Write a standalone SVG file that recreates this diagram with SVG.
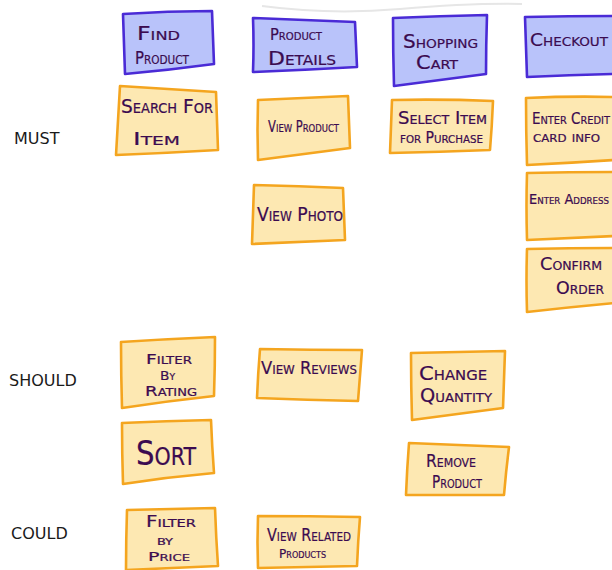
<svg xmlns="http://www.w3.org/2000/svg" width="612" height="570" viewBox="0 0 612 570">
<style>
.epic{fill:#b9c3fa;stroke:#4a2bd6;stroke-width:2.6;stroke-linejoin:round}
.story{fill:#fde8b2;stroke:#f4a51f;stroke-width:2.6;stroke-linejoin:round}
.t{font-family:"DejaVu Sans Condensed","DejaVu Sans",sans-serif;font-variant:small-caps;fill:#3b0b50;stroke:#3b0b50;stroke-width:0.2}
.lbl{font-family:"DejaVu Sans",sans-serif;font-size:16px;fill:#1a1a1a}
</style>
<rect width="612" height="570" fill="#fff"/>
<path d="M262,6 Q330,15 400,9 T522,4" fill="none" stroke="#e6e6e6" stroke-width="2"/>

<text class="lbl" x="14" y="144">MUST</text>
<text class="lbl" x="9" y="386">SHOULD</text>
<text class="lbl" x="11" y="539">COULD</text>

<g id="find-product">
<path class="epic" d="M123,14 Q168,11 212,11 Q213,38 214,64 Q170,70 125,74 Q124,44 123,14 Z"/>
<text class="t" font-size="19" x="137" y="40" textLength="43" lengthAdjust="spacingAndGlyphs">Find</text>
<text class="t" font-size="17" x="135" y="64" textLength="54" lengthAdjust="spacingAndGlyphs">Product</text>
</g>
<g id="product-details">
<path class="epic" d="M253,18 Q304,20 355,22 Q356,45 357,67 Q305,70 253,72 Q254,45 253,18 Z"/>
<text class="t" font-size="16" x="270" y="40" textLength="52" lengthAdjust="spacingAndGlyphs">Product</text>
<text class="t" font-size="20" x="268" y="65" textLength="68" lengthAdjust="spacingAndGlyphs">Details</text>
</g>
<g id="shopping-cart">
<path class="epic" d="M393,18 Q440,16 487,15 Q486,45 486,74 Q440,80 394,86 Q393,52 393,18 Z"/>
<text class="t" font-size="19" x="403" y="48" textLength="75" lengthAdjust="spacingAndGlyphs">Shopping</text>
<text class="t" font-size="19" x="416" y="69" textLength="42" lengthAdjust="spacingAndGlyphs">Cart</text>
</g>
<g id="checkout">
<path class="epic" d="M525,17 Q570,16 614,16 L614,74 Q570,75 527,77 Q526,47 525,17 Z"/>
<text class="t" font-size="18" x="530" y="46" textLength="78" lengthAdjust="spacingAndGlyphs">Checkout</text>
</g>

<g id="search-for-item">
<path class="story" d="M120,86 Q168,89 216,92 Q217,121 218,150 Q167,153 116,155 Q118,120 120,86 Z"/>
<text class="t" font-size="20" x="121" y="113" textLength="92" lengthAdjust="spacingAndGlyphs">Search For</text>
<text class="t" font-size="18" x="133" y="145" textLength="47" lengthAdjust="spacingAndGlyphs">Item</text>
</g>
<g id="view-product">
<path class="story" d="M258,100 Q303,98 348,96 Q349,122 350,148 Q304,154 258,160 Q257,130 258,100 Z"/>
<text class="t" font-size="15" x="268" y="132" textLength="71" lengthAdjust="spacingAndGlyphs">View Product</text>
</g>
<g id="select-item">
<path class="story" d="M392,100 Q443,99 493,101 Q492,126 490,150 Q440,152 390,153 Q391,127 392,100 Z"/>
<text class="t" font-size="17" x="398" y="124" textLength="89" lengthAdjust="spacingAndGlyphs">Select Item</text>
<text class="t" font-size="15" x="400" y="143" textLength="83" lengthAdjust="spacingAndGlyphs">for Purchase</text>
</g>
<g id="enter-credit-card">
<path class="story" d="M526,98 Q570,96 614,97 L614,160 Q570,163 527,165 Q526,131 526,98 Z"/>
<text class="t" font-size="15" x="532" y="124" textLength="78" lengthAdjust="spacingAndGlyphs">Enter Credit</text>
<text class="t" font-size="14" x="533" y="142" textLength="67" lengthAdjust="spacingAndGlyphs">card info</text>
</g>

<g id="view-photo">
<path class="story" d="M254,185 Q299,186 343,188 Q344,214 345,240 Q298,242 252,244 Q253,214 254,185 Z"/>
<text class="t" font-size="20" x="257" y="221" textLength="86" lengthAdjust="spacingAndGlyphs">View Photo</text>
</g>
<g id="enter-address">
<path class="story" d="M527,173 Q570,172 614,172 L614,236 Q570,238 527,240 Q526,206 527,173 Z"/>
<text class="t" font-size="13.5" x="529" y="204" textLength="80" lengthAdjust="spacingAndGlyphs">Enter Address</text>
</g>
<g id="confirm-order">
<path class="story" d="M527,249 Q570,248 614,248 L614,303 Q570,307 527,312 Q526,280 527,249 Z"/>
<text class="t" font-size="17" x="540" y="270" textLength="62" lengthAdjust="spacingAndGlyphs">Confirm</text>
<text class="t" font-size="17" x="556" y="294" textLength="48" lengthAdjust="spacingAndGlyphs">Order</text>
</g>

<g id="filter-by-rating">
<path class="story" d="M121,342 Q168,339 215,337 Q215,366 214,396 Q168,401 122,408 Q121,375 121,342 Z"/>
<text class="t" font-size="14" x="146" y="364" textLength="46" lengthAdjust="spacingAndGlyphs">Filter</text>
<text class="t" font-size="12" x="160" y="380" textLength="15" lengthAdjust="spacingAndGlyphs">By</text>
<text class="t" font-size="14" x="145" y="396" textLength="52" lengthAdjust="spacingAndGlyphs">Rating</text>
</g>
<g id="view-reviews">
<path class="story" d="M260,349 Q311,350 362,350 Q360,375 358,401 Q307,400 257,398 Q258,373 260,349 Z"/>
<text class="t" font-size="18" x="261" y="374" textLength="96" lengthAdjust="spacingAndGlyphs">View Reviews</text>
</g>
<g id="change-quantity">
<path class="story" d="M411,353 Q458,352 505,351 Q504,379 503,408 Q457,414 412,420 Q411,386 411,353 Z"/>
<text class="t" font-size="20" x="419" y="380" textLength="68" lengthAdjust="spacingAndGlyphs">Change</text>
<text class="t" font-size="19" x="420" y="402" textLength="72" lengthAdjust="spacingAndGlyphs">Quantity</text>
</g>

<g id="sort">
<path class="story" d="M122,423 Q166,421 211,420 Q212,446 214,473 Q168,477 123,484 Q122,453 122,423 Z"/>
<text class="t" font-size="34" x="136" y="465" textLength="60" lengthAdjust="spacingAndGlyphs">Sort</text>
</g>
<g id="remove-product">
<path class="story" d="M409,443 Q459,445 509,447 Q506,471 504,495 Q455,495 406,495 Q407,469 409,443 Z"/>
<text class="t" font-size="17" x="426" y="467" textLength="50" lengthAdjust="spacingAndGlyphs">Remove</text>
<text class="t" font-size="18" x="432" y="488" textLength="50" lengthAdjust="spacingAndGlyphs">Product</text>
</g>

<g id="filter-by-price">
<path class="story" d="M127,510 Q171,509 215,508 Q216,537 218,566 Q172,568 126,570 Q126,540 127,510 Z"/>
<text class="t" font-size="15" x="146" y="527" textLength="50" lengthAdjust="spacingAndGlyphs">Filter</text>
<text class="t" font-size="12" x="157" y="545" textLength="16" lengthAdjust="spacingAndGlyphs">by</text>
<text class="t" font-size="13" x="148" y="561" textLength="42" lengthAdjust="spacingAndGlyphs">Price</text>
</g>
<g id="view-related-products">
<path class="story" d="M258,516 Q309,516 360,517 Q358,541 357,566 Q307,567 258,568 Q257,542 258,516 Z"/>
<text class="t" font-size="18" x="267" y="541" textLength="84" lengthAdjust="spacingAndGlyphs">View Related</text>
<text class="t" font-size="12" x="279" y="558" textLength="47" lengthAdjust="spacingAndGlyphs">Products</text>
</g>
</svg>
